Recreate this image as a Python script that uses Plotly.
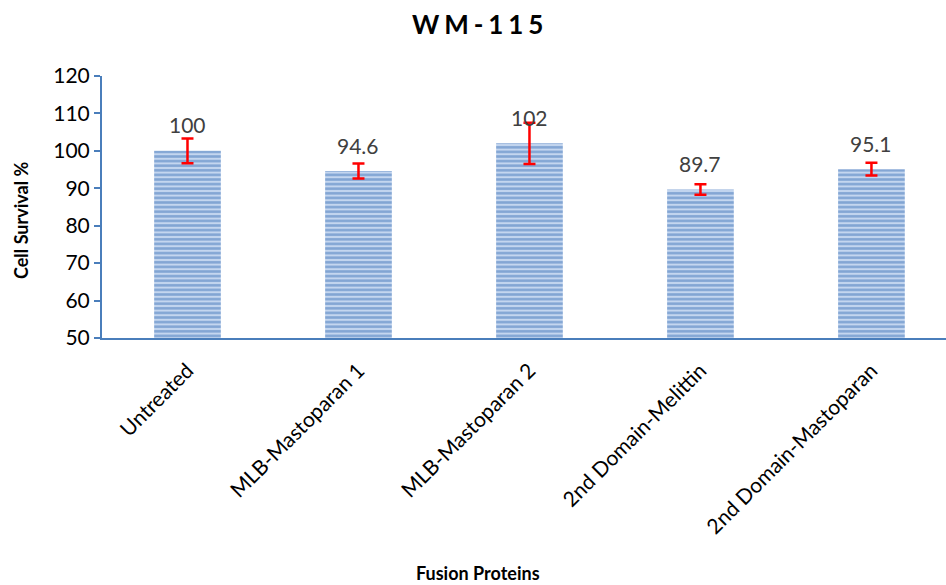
import plotly.graph_objects as go

categories = ["Untreated", "MLB-Mastoparan 1", "MLB-Mastoparan 2",
              "2nd Domain-Melittin", "2nd Domain-Mastoparan"]
survival = [100, 94.6, 102, 89.7, 95.1]
errors = [3.3, 2.0, 5.5, 1.4, 1.7]
y_ticks = [50, 60, 70, 80, 90, 100, 110, 120]

axis_blue = "#4a7ebb"
font_family = "Lato, 'Open Sans', sans-serif"

fig = go.Figure()
fig.add_trace(go.Bar(
    x=categories,
    y=survival,
    width=0.39,
    marker=dict(
        color="#b9cde9",
        line=dict(width=0),
        pattern=dict(shape="-", fgcolor="#3f74b8", bgcolor="#c4d6ef",
                     size=4.6, solidity=0.55),
    ),
    error_y=dict(type="data", array=errors, visible=True,
                 color="#ff0000", thickness=2.5, width=6),
    showlegend=False,
))

for cat, val in zip(categories, survival):
    fig.add_annotation(
        x=cat, y=val, text=f"{val:g}", showarrow=False,
        yshift=26, font=dict(size=21, color="#404040", family=font_family),
    )

# axis titles placed as paper annotations
fig.add_annotation(
    text="<b>Fusion Proteins</b>", xref="paper", yref="paper",
    x=(478 - 102) / 844, y=-(573 - 338) / 262, xanchor="center", yanchor="middle",
    showarrow=False, font=dict(size=18, color="#000000", family=font_family),
)
fig.add_annotation(
    text="<b>Cell Survival %</b>", xref="paper", yref="paper",
    x=-(102 - 21) / 844, y=(338 - 220) / 262, xanchor="center", yanchor="middle",
    textangle=-90, showarrow=False,
    font=dict(size=18, color="#000000", family=font_family),
)

gap = "\u2009\u200a"
fig.update_layout(
    width=946, height=585,
    margin=dict(l=102, r=0, t=76, b=247),
    paper_bgcolor="white", plot_bgcolor="white",
    title=dict(text=gap.join("WM-115"), x=0.505, xanchor="center",
               y=0.957, yanchor="middle",
               font=dict(size=26, color="#000000", family=font_family, weight="bold")),
    font=dict(family=font_family, color="#000000"),
)
fig.update_xaxes(
    range=[-0.5, 4.436],
    showline=True, linecolor=axis_blue, linewidth=2,
    ticks="outside", ticklen=10, tickcolor="rgba(0,0,0,0)",
    tickangle=-45, tickfont=dict(size=21, color="#000000"),
    showgrid=False,
)
fig.update_yaxes(
    range=[50, 120], tickvals=y_ticks,
    showline=True, linecolor=axis_blue, linewidth=2,
    ticks="outside", tickcolor=axis_blue, ticklen=6, tickwidth=1.5,
    tickfont=dict(size=21, color="#000000"),
    showgrid=False, zeroline=False,
)

fig.write_html("out.html")
